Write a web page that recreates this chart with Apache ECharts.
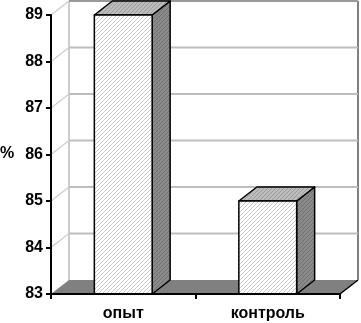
<!DOCTYPE html>
<html><head><meta charset="utf-8">
<script src="https://cdn.jsdelivr.net/npm/echarts@6/dist/echarts.min.js"></script>
<style>html,body{margin:0;padding:0;background:#fff}#c{width:361px;height:323px}</style>
</head><body><div id="c"></div>
<script>
var categories = ['опыт', 'контроль'];
var values = [89, 85];
var yTicks = [83, 84, 85, 86, 87, 88, 89];
var yMin = 83, yMax = 89;

var DX = 18, DY = -14;

function hatch(bg, fg) {
  var c = document.createElement('canvas');
  c.width = 4; c.height = 4;
  var g = c.getContext('2d');
  g.fillStyle = bg; g.fillRect(0, 0, 4, 4);
  g.strokeStyle = fg; g.lineWidth = 1;
  g.beginPath();
  g.moveTo(-1, 5); g.lineTo(5, -1);
  g.moveTo(-1, 1); g.lineTo(1, -1);
  g.moveTo(3, 5); g.lineTo(5, 3);
  g.stroke();
  return { image: c, repeat: 'repeat' };
}
var frontFill = hatch('#ffffff', '#c8c8c8');
var sideFill = hatch('#8a8a8a', '#707070');
var topFill = hatch('#bcbcbc', '#9c9c9c');

var chart = echarts.init(document.getElementById('c'), null, { renderer: 'canvas' });

var FONT = 'Arial, "Liberation Sans", sans-serif';
var option = {
  animation: false,
  backgroundColor: '#fff',
  grid: { left: 51, right: 21, top: 15, bottom: 29 },
  graphic: [{
    type: 'text', left: 0, top: 146,
    style: { text: '%', font: 'bold 16px Arial, "Liberation Sans", sans-serif', fill: '#000' }
  }],
  xAxis: {
    type: 'category', data: categories,
    axisLine: { lineStyle: { color: '#000', width: 2 } },
    axisTick: { show: true, length: 5, lineStyle: { color: '#000', width: 2 } },
    axisLabel: { color: '#000', fontWeight: 'bold', fontSize: 16, fontFamily: FONT, margin: 12 },
    z: 5
  },
  yAxis: {
    type: 'value', min: yMin, max: yMax, interval: 1,
    axisLine: { show: true, lineStyle: { color: '#000', width: 2 } },
    axisTick: { show: true, length: 5, lineStyle: { color: '#000', width: 2 } },
    splitLine: { show: false },
    axisLabel: { color: '#000', fontWeight: 'bold', fontSize: 16, fontFamily: FONT, margin: 8 },
    z: 5
  },
  series: [
    {
      type: 'custom', z: 1, silent: true,
      data: yTicks.map(function (v) { return [0, v]; }),
      renderItem: function (params, api) {
        var cs = params.coordSys;
        var v = api.value(1);
        var p = api.coord([0, v]);
        var y = p[1];
        var x0 = cs.x, x1 = cs.x + cs.width;
        var children = [];
        if (v === yMin) {
          children.push({ type: 'polygon', shape: { points: [[x0, y], [x1, y], [x1 + DX, y + DY], [x0 + DX, y + DY]] },
            style: { fill: '#808080', stroke: null } });
          children.push({ type: 'line', shape: { x1: x1, y1: y, x2: x1 + DX, y2: y + DY },
            style: { stroke: '#000', lineWidth: 1.5 } });
          var yt = api.coord([0, yMax])[1] + DY;
          children.push({ type: 'line', shape: { x1: x0 + DX, y1: y + DY, x2: x0 + DX, y2: yt },
            style: { stroke: '#bdbdbd', lineWidth: 1.5 } });
          children.push({ type: 'line', shape: { x1: x1 + DX, y1: y + DY, x2: x1 + DX, y2: yt },
            style: { stroke: '#808080', lineWidth: 2 } });
        } else {
          children.push({ type: 'line', shape: { x1: x0, y1: y, x2: x0 + DX, y2: y + DY },
            style: { stroke: '#d0d0d0', lineWidth: 1.5 } });
          children.push({ type: 'line', shape: { x1: x0 + DX, y1: y + DY, x2: x1 + DX, y2: y + DY },
            style: { stroke: v === yMax ? '#9a9a9a' : '#bdbdbd', lineWidth: 2 } });
        }
        return { type: 'group', children: children };
      }
    },
    {
      type: 'custom', z: 3,
      data: values.map(function (v, i) { return [i, v]; }),
      renderItem: function (params, api) {
        var top = api.coord([api.value(0), api.value(1)]);
        var base = api.coord([api.value(0), yMin]);
        var bw = api.size([1, 0])[0] * 0.4;
        var l = top[0] - bw / 2, r = top[0] + bw / 2, t = top[1], b = base[1];
        var st = { stroke: '#000', lineWidth: 1.5, lineJoin: 'round' };
        return {
          type: 'group',
          children: [
            { type: 'polygon', shape: { points: [[r, b], [r + DX, b + DY], [r + DX, t + DY], [r, t]] },
              style: Object.assign({ fill: sideFill }, st) },
            { type: 'polygon', shape: { points: [[l, t], [r, t], [r + DX, t + DY], [l + DX, t + DY]] },
              style: Object.assign({ fill: topFill }, st) },
            { type: 'rect', shape: { x: l, y: t, width: bw, height: b - t },
              style: Object.assign({ fill: frontFill }, st) }
          ]
        };
      }
    }
  ]
};
chart.setOption(option);
</script></body></html>
